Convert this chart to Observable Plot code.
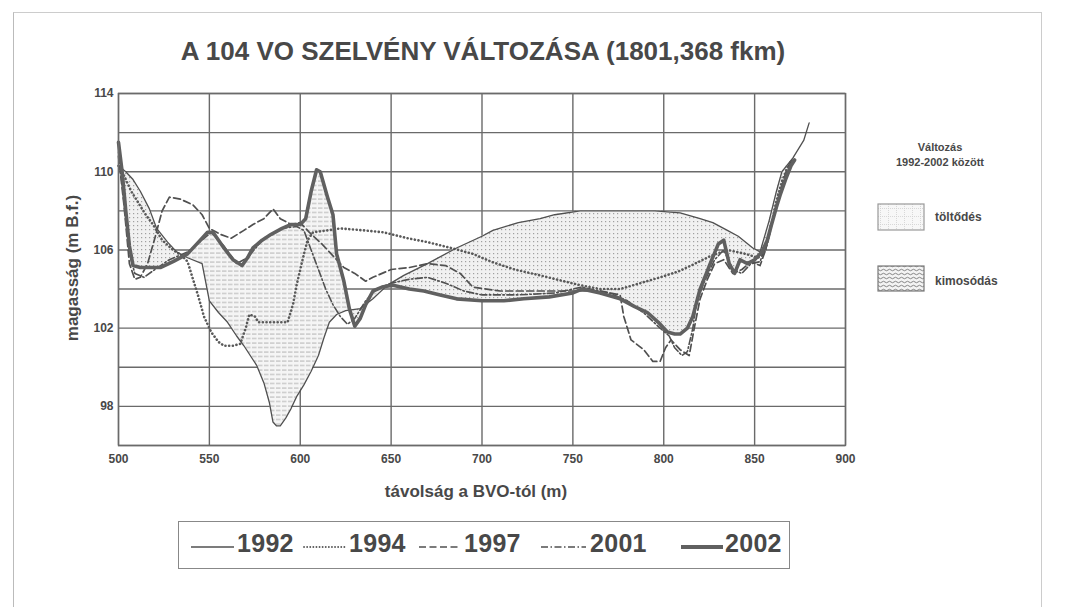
<!DOCTYPE html>
<html>
<head>
<meta charset="utf-8">
<script src="https://cdn.jsdelivr.net/npm/d3@7"></script>
<script src="https://cdn.jsdelivr.net/npm/@observablehq/plot@0.6"></script>
<style>
  html, body { margin: 0; padding: 0; background: #fff; }
  body { width: 1065px; height: 607px; position: relative; overflow: hidden;
         font-family: "Liberation Sans", Arial, sans-serif; color: #484848; }
  .abs { position: absolute; white-space: nowrap; font-weight: bold; }
  #page { position: absolute; left: 13px; top: 12px; width: 1027px; height: 600px;
          border-left: 1.5px solid #bbb; border-top: 1.5px solid #ccc; border-right: 1.5px solid #ccc; }
  #chart { position: absolute; left: 0; top: 0; }
</style>
</head>
<body>
<div id="page"></div>
<div id="chart"></div>
<div class="abs" style="left:0;width:966px;text-align:center;top:36px;font-size:26px;">A 104 VO SZELVÉNY VÁLTOZÁSA (1801,368 fkm)</div>
<div class="abs" style="left:73px;top:268px;font-size:17px;transform:translate(-50%,-50%) rotate(-90deg);">magasság (m B.f.)</div>
<div class="abs" style="left:0;width:952px;text-align:center;top:482px;font-size:17px;">távolság a BVO-tól (m)</div>
<div class="abs" style="left:880px;width:120px;text-align:center;top:140px;font-size:11px;line-height:15px;">Változás<br>1992-2002 között</div>
<div id="legend2" class="abs" style="left:0;top:0;"></div>
<div id="legend" class="abs" style="left:178px;top:521px;width:610px;height:46px;border:1.5px solid #888;"></div>
<script>
// ---- data: [distance from BVO (m), elevation (m B.f.)] ----
const years = ["1992", "1994", "1997", "2001", "2002"];

const s1992 = [[500,110.3],[504,110.0],[508,109.6],[512,109.0],[517,108.1],[521,107.1],[527,106.4],[532,105.9],[538,105.6],[546,105.3],[550,103.4],[555,102.8],[560,102.3],[565,101.6],[569,101.1],[576,100.1],[580,99.2],[583,98.2],[585,97.2],[587,97.0],[589,97.0],[592,97.4],[595,97.9],[598,98.5],[602,99.1],[606,99.8],[610,100.6],[613,101.5],[616,102.3],[620,102.7],[625,102.9],[633,103.0],[640,103.5],[648,104.2],[657,104.7],[670,105.3],[686,106.1],[700,106.7],[706,107.0],[720,107.4],[732,107.6],[740,107.8],[754,108.0],[770,108.0],[782,108.0],[795,108.0],[809,107.9],[820,107.6],[827,107.4],[835,107.0],[841,106.7],[849,106.1],[853,105.9],[858,107.5],[862,109.0],[865,110.0],[871,110.7],[877,111.6],[880,112.5]];

const s1994 = [[500,110.3],[503,109.8],[507,109.0],[511,108.4],[515,107.8],[519,107.3],[524,106.5],[530,106.0],[535,105.7],[538,105.4],[541,104.5],[544,103.6],[547,102.6],[551,101.8],[555,101.3],[558,101.1],[563,101.1],[567,101.2],[570,102.0],[572,102.7],[575,102.6],[577,102.3],[585,102.3],[593,102.3],[596,103.2],[598,104.2],[601,105.4],[604,106.5],[607,106.9],[615,107.0],[622,107.1],[635,107.0],[646,106.9],[659,106.6],[670,106.4],[683,106.1],[695,105.8],[705,105.4],[718,105.0],[732,104.7],[745,104.4],[754,104.2],[765,104.0],[776,104.0],[787,104.3],[798,104.6],[808,104.9],[815,105.2],[826,105.7],[835,106.0],[845,105.8],[852,105.6],[856,106.0],[859,107.2],[862,108.5],[865,109.5],[868,110.2],[871,110.6]];

const s1997 = [[500,110.8],[503,108.3],[506,105.3],[509,104.5],[512,104.6],[516,105.3],[520,106.6],[524,108.0],[528,108.7],[534,108.6],[541,108.3],[546,107.8],[550,107.1],[556,106.8],[562,106.6],[569,107.0],[574,107.3],[580,107.6],[585,108.1],[589,107.6],[595,107.3],[600,107.4],[605,106.9],[612,106.3],[618,105.7],[624,105.1],[630,104.8],[636,104.4],[640,104.6],[650,105.0],[660,105.1],[670,105.3],[680,105.2],[688,104.8],[695,104.1],[710,103.9],[732,103.9],[750,103.9],[765,103.9],[776,103.7],[778,102.6],[782,101.4],[789,100.9],[794,100.3],[798,100.3],[801,101.0],[804,101.4],[809,100.9],[814,100.6],[817,102.1],[820,103.5],[824,104.5],[828,105.3],[833,105.5],[838,104.8],[843,105.0],[848,105.4],[853,105.2],[856,106.0],[860,107.5],[864,109.0],[868,110.2],[870,110.5]];

const s2001 = [[500,111.0],[503,108.5],[506,105.8],[509,104.8],[514,104.6],[520,105.0],[528,105.5],[538,105.9],[546,106.5],[551,106.9],[558,106.2],[565,105.3],[571,105.6],[580,106.6],[590,107.1],[598,107.2],[602,107.0],[606,106.0],[610,105.0],[614,104.0],[618,103.2],[622,102.6],[626,102.2],[630,102.5],[636,103.4],[642,104.0],[650,104.3],[660,104.5],[670,104.6],[680,104.3],[690,103.9],[700,103.7],[720,103.7],[740,103.8],[755,104.1],[770,103.8],[780,103.4],[790,102.7],[798,102.0],[803,101.6],[806,101.0],[810,100.6],[813,100.8],[816,102.0],[818,103.3],[822,104.3],[828,105.5],[833,106.0],[838,105.0],[843,104.8],[848,105.3],[853,105.4],[856,106.2],[860,107.6],[864,108.8],[868,110.0],[871,110.6]];

const s2002 = [[500,111.5],[502,110.0],[504,108.0],[506,106.2],[508,105.2],[512,105.1],[518,105.1],[523,105.1],[530,105.4],[538,105.8],[544,106.4],[549,106.9],[552,106.9],[558,106.1],[563,105.5],[568,105.2],[571,105.6],[574,106.1],[579,106.5],[584,106.8],[590,107.1],[595,107.3],[600,107.3],[603,107.6],[606,109.0],[609,110.1],[611,110.0],[615,108.7],[618,107.8],[620,105.8],[624,104.4],[627,103.0],[630,102.1],[633,102.5],[636,103.2],[640,103.9],[645,104.1],[651,104.2],[660,104.0],[668,103.9],[677,103.7],[686,103.5],[700,103.4],[712,103.4],[723,103.5],[737,103.6],[750,103.8],[755,104.0],[765,103.8],[776,103.5],[784,103.1],[791,102.8],[797,102.3],[802,101.8],[806,101.7],[809,101.7],[813,102.0],[816,102.6],[820,104.0],[826,105.4],[830,106.3],[833,106.5],[836,105.3],[839,104.8],[842,105.5],[846,105.3],[850,105.5],[854,105.9],[857,106.5],[859,107.2],[862,108.2],[864,108.8],[867,109.6],[870,110.3],[872,110.6]];

const xTicks = [500, 550, 600, 650, 700, 750, 800, 850, 900];
const yTicks = [98, 102, 106, 110, 114];
const yGrid = [96, 98, 100, 102, 104, 106, 108, 110, 112, 114];

// ---- build tables ----
const seriesMap = {"1992": s1992, "1994": s1994, "1997": s1997, "2001": s2001, "2002": s2002};
const rows = years.flatMap(yr => seriesMap[yr].map(([x, y]) => ({x, y, year: yr})));

function interp(series, x) {
  for (let i = 1; i < series.length; i++) {
    const [x0, y0] = series[i - 1], [x1, y1] = series[i];
    if (x >= x0 && x <= x1) return y0 + (y1 - y0) * (x - x0) / (x1 - x0);
  }
  return NaN;
}
const fillRows = [];
for (let x = 500; x <= 872; x += 0.25) {
  const a = interp(s1992, x), b = interp(s2002, x);
  fillRows.push({x, a, b, top: Math.max(a, b)});
}

const styles = {
  "1992": {strokeWidth: 1.3, dash: null},
  "1994": {strokeWidth: 2.6, dash: "0.1,3.6"},
  "1997": {strokeWidth: 1.7, dash: "7,3.5"},
  "2001": {strokeWidth: 1.6, dash: "7,2.5,1.5,2.5"},
  "2002": {strokeWidth: 3.6, dash: null}
};
const lineColor = {"1992": "#505050", "1994": "#5a5a5a", "1997": "#505050", "2001": "#505050", "2002": "#606060"};

const lineMarks = ["1997", "2001", "1994", "1992", "2002"].map(yr =>
  Plot.line(rows.filter(d => d.year === yr), {
    x: "x", y: "y", stroke: lineColor[yr], strokeWidth: styles[yr].strokeWidth,
    strokeDasharray: styles[yr].dash, strokeLinecap: "round", strokeLinejoin: "round", curve: "linear"
  })
);

const chart = Plot.plot({
  width: 1065, height: 607,
  marginLeft: 118, marginRight: 220, marginTop: 93, marginBottom: 162,
  style: {fontFamily: "'Liberation Sans', Arial, sans-serif", fontSize: "12px", fontWeight: "bold", color: "#484848", background: "transparent", overflow: "visible"},
  x: {domain: [500, 900], ticks: xTicks, tickSize: 0, tickPadding: 9, label: null, tickFormat: d => String(d)},
  y: {domain: [96, 114], ticks: yTicks, tickSize: 0, tickPadding: 5, label: null, tickFormat: d => String(d)},
  marks: [
    Plot.gridY(yGrid, {stroke: "#6a6a6a", strokeOpacity: 1, strokeWidth: 1.4}),
    Plot.gridX(xTicks, {stroke: "#6a6a6a", strokeOpacity: 1, strokeWidth: 1.4}),
    Plot.areaY(fillRows, {x: "x", y1: "b", y2: "top", fill: "url(#dotsPat)", curve: "linear"}),
    Plot.areaY(fillRows, {x: "x", y1: "a", y2: "top", fill: "url(#hlinePat)", curve: "linear"}),
    ...lineMarks,
    Plot.frame({stroke: "#6a6a6a", strokeWidth: 1.4})
  ]
});

// patterns
const svgSel = d3.select(chart);
const defs = svgSel.insert("defs", ":first-child");
const pd = defs.append("pattern").attr("id", "dotsPat").attr("patternUnits", "userSpaceOnUse").attr("width", 4).attr("height", 4);
pd.append("rect").attr("width", 4).attr("height", 4).attr("fill", "#f1f1f1");
pd.append("rect").attr("x", 1).attr("y", 1).attr("width", 1.2).attr("height", 1.2).attr("fill", "#a0a0a0");
const ph = defs.append("pattern").attr("id", "hlinePat").attr("patternUnits", "userSpaceOnUse").attr("width", 6).attr("height", 4.5);
ph.append("rect").attr("width", 6).attr("height", 4.5).attr("fill", "#f5f5f5");
ph.append("line").attr("x1", 0).attr("x2", 4.5).attr("y1", 1).attr("y2", 1).attr("stroke", "#a8a8a8").attr("stroke-width", 0.9);
document.getElementById("chart").appendChild(chart);

// ---- bottom legend (series) ----
const legendItems = [
  {year: "1992", x0: 12, x1: 55, tx: 58},
  {year: "1994", x0: 125, x1: 167, tx: 170},
  {year: "1997", x0: 240, x1: 282, tx: 285},
  {year: "2001", x0: 362, x1: 407, tx: 411},
  {year: "2002", x0: 502, x1: 544, tx: 546}
];
const lg = d3.select("#legend");
const lsvg = lg.append("svg").attr("width", 610).attr("height", 46).style("position", "absolute").style("left", 0).style("top", 0);
legendItems.forEach(it => {
  const st = styles[it.year];
  lsvg.append("line").attr("x1", it.x0).attr("x2", it.x1).attr("y1", 25).attr("y2", 25)
    .attr("stroke", lineColor[it.year]).attr("stroke-width", it.year === "1994" ? 1.8 : st.strokeWidth + (it.year === "2002" ? 0.6 : 0))
    .attr("stroke-dasharray", it.year === "1994" ? "0.1,3" : st.dash).attr("stroke-linecap", it.year === "1994" ? "round" : "butt");
  lg.append("div").attr("class", "abs").style("left", it.tx + "px").style("top", "7px")
    .style("font-size", "25px").style("letter-spacing", "0.3px").text(it.year);
});

// ---- right legend (change patterns) ----
const l2 = d3.select("#legend2");
const s2 = l2.append("svg").attr("width", 1065).attr("height", 320).style("position", "absolute").style("left", 0).style("top", 0);
const d2 = s2.append("defs");
const pg = d2.append("pattern").attr("id", "gridPat2").attr("patternUnits", "userSpaceOnUse").attr("width", 8).attr("height", 8);
pg.append("rect").attr("width", 8).attr("height", 8).attr("fill", "#f7f7f7");
pg.append("path").attr("d", "M0,0.5H8M0.5,0V8").attr("stroke", "#d0d0d0").attr("stroke-width", 0.8).attr("stroke-dasharray", "1,1");
const pw = d2.append("pattern").attr("id", "wavePat2").attr("patternUnits", "userSpaceOnUse").attr("width", 6).attr("height", 4);
pw.append("rect").attr("width", 6).attr("height", 4).attr("fill", "#f4f4f4");
pw.append("path").attr("d", "M0,2 Q1.5,0.5 3,2 T6,2").attr("stroke", "#777").attr("stroke-width", 0.9).attr("fill", "none");
s2.append("rect").attr("x", 878).attr("y", 204).attr("width", 46).attr("height", 26).attr("fill", "url(#gridPat2)").attr("stroke", "#999").attr("stroke-width", 1.2);
s2.append("rect").attr("x", 878).attr("y", 266).attr("width", 46).attr("height", 25).attr("fill", "url(#wavePat2)").attr("stroke", "#777").attr("stroke-width", 1.2);
l2.append("div").attr("class", "abs").style("left", "935px").style("top", "210px").style("font-size", "12px").text("töltődés");
l2.append("div").attr("class", "abs").style("left", "935px").style("top", "274px").style("font-size", "12px").text("kimosódás");
</script>
</body>
</html>
